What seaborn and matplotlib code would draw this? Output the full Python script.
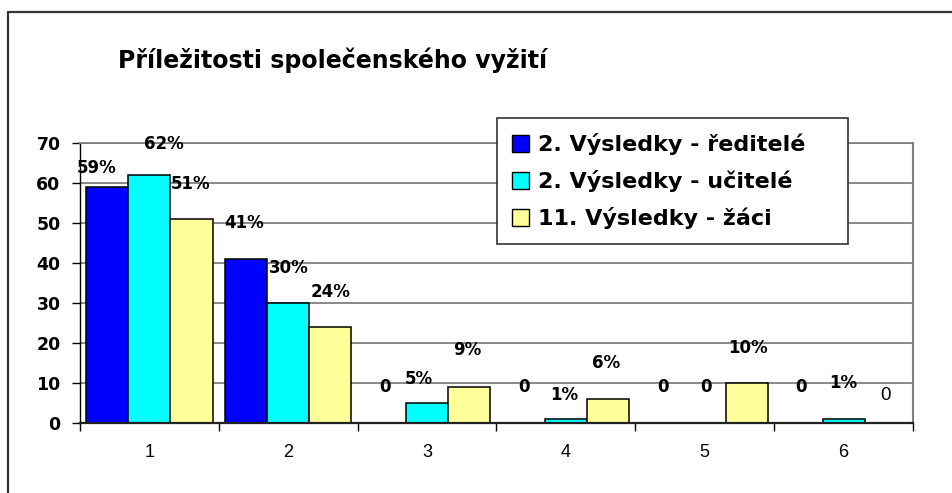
import matplotlib
matplotlib.use("Agg")
import matplotlib.pyplot as plt
from matplotlib.lines import Line2D
from matplotlib.patches import Patch
import numpy as np
import pandas as pd
import seaborn as sns

# ---- data ----
categories = ["1", "2", "3", "4", "5", "6"]
series = ["2. Výsledky - ředitelé", "2. Výsledky - učitelé", "11. Výsledky - žáci"]
reditele = [59, 41, 0, 0, 0, 0]
ucitele = [62, 30, 5, 1, 0, 1]
zaci = [51, 24, 9, 6, 10, 0]
labels_reditele = ["59%", "41%", "0", "0", "0", "0"]
labels_ucitele = ["62%", "30%", "5%", "1%", "0", "1%"]
labels_zaci = ["51%", "24%", "9%", "6%", "10%", "0"]
title = "Příležitosti společenského vyžití"
yticks = [0, 10, 20, 30, 40, 50, 60, 70]

# ---- style ----
colors = ["#0000FF", "#00FFFF", "#FFFF99"]
# label offsets (pixels) relative to bar top centre
offs_reditele = [(-11, 19), (-2, 36), (0, 36), (0, 36), (0, 36), (0, 36)]
offs_ucitele = [(14, 31), (0, 35), (-8, 24), (-2, 24), (1, 36), (0, 36)]
offs_zaci = [(-1, 35), (0, 35), (-2, 37), (-2, 36), (1, 35), (0, 27)]
weights_zaci = ["bold", "bold", "bold", "bold", "bold", "normal"]

sns.set_theme(style="white")
plt.rcParams["font.family"] = ["DejaVu Sans"]
plt.rcParams["text.color"] = "black"
plt.rcParams["xtick.color"] = "black"
plt.rcParams["ytick.color"] = "black"
plt.rcParams["axes.labelcolor"] = "black"

df = pd.DataFrame({
    "Kategorie": categories * 3,
    "Hodnota": reditele + ucitele + zaci,
    "Série": [s for s in series for _ in categories],
})

fig = plt.figure(figsize=(9.52, 4.93), dpi=100)
ax = fig.add_axes([80 / 952, 1 - 423 / 493, 833 / 952, 280 / 493])

sns.barplot(data=df, x="Kategorie", y="Hodnota", hue="Série", palette=colors,
            width=0.91, edgecolor="black", linewidth=1.1, saturation=1,
            errorbar=None, legend=False, ax=ax)

ax.set_xlim(-0.5, 5.5)
ax.set_ylim(0, 70)
ax.set_yticks(yticks)
ax.set_yticklabels([str(t) for t in yticks], fontweight="bold", fontsize=12.5)
ax.set_xlabel("")
ax.set_ylabel("")
ax.set_axisbelow(True)
ax.yaxis.grid(True, color="#808080", lw=1.3)
ax.xaxis.grid(False)

ax.set_xticks(range(len(categories)))
ax.set_xticklabels(categories, fontfamily="Liberation Sans", fontsize=13)
ax.set_xticks(np.arange(-0.5, len(categories), 1), minor=True)
ax.tick_params(axis="x", which="major", length=0, pad=15)
ax.tick_params(axis="x", which="minor", length=6, width=1, color="black", direction="out", bottom=True)
ax.tick_params(axis="y", length=6, width=1, color="black", direction="out", pad=8, left=True)

for side, col, lw in [("left", "black", 1.0), ("bottom", "#222222", 1.6),
                      ("right", "#808080", 1.5), ("top", "#808080", 1.3)]:
    ax.spines[side].set_visible(True)
    ax.spines[side].set_color(col)
    ax.spines[side].set_linewidth(lw)

all_labels = [labels_reditele, labels_ucitele, labels_zaci]
all_offs = [offs_reditele, offs_ucitele, offs_zaci]
all_weights = [["bold"] * 6, ["bold"] * 6, weights_zaci]
for cont, labs, offs, wts in zip(ax.containers, all_labels, all_offs, all_weights):
    for bar, lab, (dx, dy), w in zip(cont, labs, offs, wts):
        fam = "DejaVu Sans" if w == "bold" else "Liberation Sans"
        fs = 12 if w == "bold" else 13.5
        ax.annotate(lab, xy=(bar.get_x() + bar.get_width() / 2, bar.get_height()),
                    xytext=(dx, dy), textcoords="offset pixels", ha="center", va="center",
                    fontsize=fs, fontweight=w, fontfamily=fam, color="black",
                    annotation_clip=False)

handles = [Patch(facecolor=c, edgecolor="black", linewidth=1.0) for c in colors]
leg = ax.legend(handles, series, loc="upper left",
                bbox_to_anchor=(417 / 833, 1 + 25 / 280, 351 / 833, 0.0),
                mode="expand", borderaxespad=0, frameon=True, fancybox=False, shadow=False,
                handlelength=0.75, handleheight=0.75, handletextpad=0.4,
                labelspacing=0.68, borderpad=0.68,
                prop={"weight": "bold", "size": 16})
leg.get_frame().set_edgecolor("#333333")
leg.get_frame().set_linewidth(1.2)
leg.get_frame().set_facecolor("white")
leg.get_frame().set_alpha(1)

fig.text(118 / 952, 1 - 60 / 493, title, ha="left", va="center",
         fontsize=17, fontweight="bold")

fig.add_artist(Line2D([8 / 952, 1], [1 - 12 / 493] * 2, transform=fig.transFigure,
                      color="#333333", lw=1.6))
fig.add_artist(Line2D([8 / 952] * 2, [0, 1 - 12 / 493], transform=fig.transFigure,
                      color="#333333", lw=1.6))

fig.savefig("out.png", dpi=100, facecolor="white")
